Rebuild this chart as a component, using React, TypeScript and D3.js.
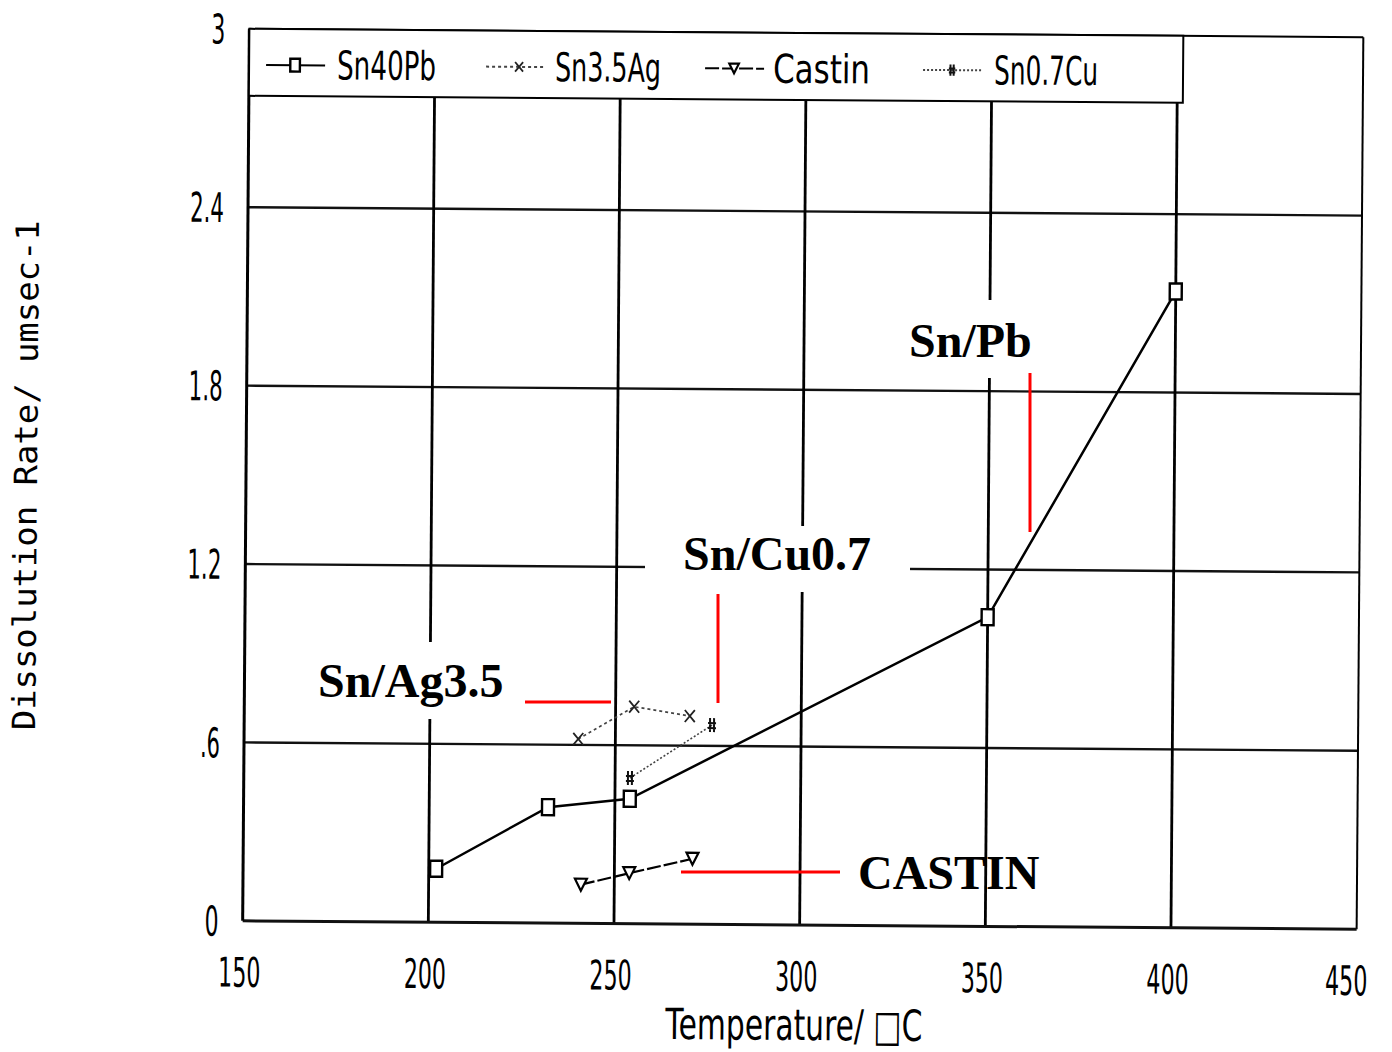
import React from "react";
import * as d3 from "d3";

// ---- data ----
const xTicks = [150, 200, 250, 300, 350, 400, 450];
const xTickLabels = ["150", "200", "250", "300", "350", "400", "450"];
const yTicks = [0, 0.6, 1.2, 1.8, 2.4, 3];
const yTickLabels = ["0", ".6", "1.2", "1.8", "2.4", "3"];

const sn40pbT = [202, 232, 254, 350, 400];
const sn40pbV = [0.18, 0.39, 0.42, 1.04, 2.14];
const sn35agT = [240, 255, 270];
const sn35agV = [0.62, 0.73, 0.70];
const castinT = [241, 254, 271];
const castinV = [0.13, 0.17, 0.22];
const sn07cuT = [254, 276];
const sn07cuV = [0.49, 0.67];

const seriesNames = ["Sn40Pb", "Sn3.5Ag", "Castin", "Sn0.7Cu"];
const annotationLabels = ["Sn/Pb", "Sn/Cu0.7", "Sn/Ag3.5", "CASTIN"];

// ---- layout ----
const W = 1392, H = 1052;
const X0 = 246, X1 = 1360, Y0 = 33, Y1 = 925;
const LEG_BOTTOM = 100, LEG_RIGHT = 1180;
const PLOT_FONT = "'DejaVu Sans', 'Liberation Sans', sans-serif";

const xScale = d3.scaleLinear().domain([150, 450]).range([X0, X1]);
const yScale = d3.scaleLinear().domain([0, 3]).range([Y1, Y0]);

type Style = { dash?: string; width: number; color: string; marker: string };
const styles: Style[] = [
  { width: 2.5, color: "#000", marker: "square" },
  { dash: "3,3", width: 1.6, color: "#444", marker: "x" },
  { dash: "14,3", width: 2.2, color: "#000", marker: "tri" },
  { dash: "2,2", width: 1.6, color: "#444", marker: "hash" },
];

function Marker({ kind, x, y, s = 1 }: { kind: string; x: number; y: number; s?: number }) {
  if (kind === "square")
    return <rect x={x - 6 * s} y={y - 8 * s} width={12 * s} height={16 * s} fill="#fff" stroke="#000" strokeWidth={2.4} />;
  if (kind === "x")
    return (
      <path d={`M${x - 5 * s},${y - 6 * s}L${x + 5 * s},${y + 6 * s}M${x + 5 * s},${y - 6 * s}L${x - 5 * s},${y + 6 * s}`} stroke="#222" strokeWidth={1.8} fill="none" />
    );
  if (kind === "tri")
    return <path d={`M${x - 6 * s},${y - 6 * s}L${x + 6 * s},${y - 6 * s}L${x},${y + 6 * s}Z`} fill="#fff" stroke="#000" strokeWidth={2.2} />;
  return (
    <path d={`M${x - 2 * s},${y - 7 * s}L${x - 2 * s},${y + 7 * s}M${x + 2 * s},${y - 7 * s}L${x + 2 * s},${y + 7 * s}M${x - 4 * s},${y - 2 * s}L${x + 4 * s},${y - 2 * s}M${x - 4 * s},${y + 3 * s}L${x + 4 * s},${y + 3 * s}`} stroke="#111" strokeWidth={2} fill="none" />
  );
}

function PText({ x, y, w, size, anchor = "start", children }: any) {
  return (
    <text x={x} y={y} fontSize={size} fontFamily={PLOT_FONT} textAnchor={anchor} textLength={w} lengthAdjust="spacingAndGlyphs" fill="#000">
      {children}
    </text>
  );
}

// condensed text via a horizontal scale, so the box equals the drawn width
function SText({ x, y, sx, size, anchor = "start", children }: any) {
  return (
    <text transform={`translate(${x},${y}) scale(${sx},1)`} fontSize={size} fontFamily={PLOT_FONT} textAnchor={anchor} fill="#000">
      {children}
    </text>
  );
}

const lineGen = d3.line<[number, number]>().x((d) => xScale(d[0])).y((d) => yScale(d[1]));

export default function App() {
  const series = [
    { t: sn40pbT, v: sn40pbV },
    { t: sn35agT, v: sn35agV },
    { t: castinT, v: castinV },
    { t: sn07cuT, v: sn07cuV },
  ];
  const legendPos = [
    { l0: 263, l1: 322, m: 292, tx: 334, tw: 99 },
    { l0: 483, l1: 540, m: 516, tx: 552, tw: 106 },
    { l0: 702, l1: 761, m: 731, tx: 770, tw: 97 },
    { l0: 920, l1: 979, m: 949, tx: 991, tw: 104 },
  ];
  const charW = (s: string) => s.split("").reduce((a, c) => a + (c === "." ? 6 : 14), 0);

  return (
    <svg width={W} height={H} style={{ position: "absolute", left: 0, top: 0, background: "#fff" }}>
      <rect width={W} height={H} fill="#fff" />
      <g transform="rotate(0.43 803 479)">
        {/* horizontal gridlines */}
        {yTicks.filter((t) => t > 0 && t < 3).map((t) => (
          <line key={"h" + t} x1={X0} x2={X1} y1={yScale(t)} y2={yScale(t)} stroke="#111" strokeWidth={2.4} />
        ))}
        {/* vertical gridlines */}
        {xTicks.filter((t) => t > 150 && t < 450).map((t) => (
          <line key={"v" + t} x1={xScale(t)} x2={xScale(t)} y1={Y1} y2={LEG_BOTTOM} stroke="#000" strokeWidth={2.8} />
        ))}
        {/* frame */}
        <line x1={X0} x2={X1} y1={Y0} y2={Y0} stroke="#000" strokeWidth={2} />
        <line x1={X1} x2={X1} y1={Y0} y2={Y1} stroke="#000" strokeWidth={2} />
        <line x1={X0} x2={X1} y1={Y1} y2={Y1} stroke="#111" strokeWidth={3} />
        <line x1={X0} x2={X0} y1={Y0} y2={Y1} stroke="#000" strokeWidth={3} />
        {/* legend box */}
        <rect x={X0} y={Y0} width={LEG_RIGHT - X0} height={LEG_BOTTOM - Y0} fill="#fff" stroke="#000" strokeWidth={2} />
        {seriesNames.map((n, i) => {
          const p = legendPos[i];
          const st = styles[i];
          return (
            <g key={n}>
              <line x1={p.l0} x2={p.l1} y1={69} y2={69} stroke={st.color} strokeWidth={2} strokeDasharray={st.dash} />
              <Marker kind={st.marker} x={p.m} y={69} s={0.8} />
              <PText x={p.tx} y={83} w={p.tw} size={40}>{n}</PText>
            </g>
          );
        })}
        {/* y tick labels */}
        {yTicks.map((t, i) => (
          <PText key={"yl" + t} x={222} y={yScale(t) + 15} w={charW(yTickLabels[i])} size={41} anchor="end">
            {yTickLabels[i]}
          </PText>
        ))}
        {/* x tick labels */}
        {xTicks.map((t, i) => (
          <SText key={"xl" + t} x={xScale(t) - (i === xTicks.length - 1 ? 10 : 3)} y={991} sx={0.54} size={41} anchor="middle">
            {xTickLabels[i]}
          </SText>
        ))}
        {/* axis titles */}
        <PText x={798} y={1040} w={257} size={43} anchor="middle">Temperature/ □C</PText>
        <text transform="translate(37,481) rotate(-90)" textAnchor="middle" fontFamily="'DejaVu Sans Mono', monospace" fontSize={32} textLength={510} lengthAdjust="spacingAndGlyphs" fill="#000">
          Dissolution Rate/ umsec-1
        </text>
        {/* series */}
        {series.map((s, i) => {
          const pts = s.t.map((t, j) => [t, s.v[j]] as [number, number]);
          const st = styles[i];
          return (
            <g key={"s" + i}>
              <path d={lineGen(pts) || ""} fill="none" stroke={st.color} strokeWidth={st.width} strokeDasharray={st.dash} />
              {pts.map((p, j) => (
                <Marker key={j} kind={st.marker} x={xScale(p[0])} y={yScale(p[1])} />
              ))}
            </g>
          );
        })}
      </g>
      {/* overlay annotations */}
      <rect x={900} y={300} width={140} height={78} fill="#fff" />
      <rect x={645} y={526} width={265} height={66} fill="#fff" />
      <rect x={305} y={642} width={210} height={77} fill="#fff" />
      <g fontFamily="'Liberation Serif', 'Times New Roman', serif" fontWeight="bold" fontSize={48} fill="#000">
        <text x={909} y={357}>{annotationLabels[0]}</text>
        <text x={683} y={570}>{annotationLabels[1]}</text>
        <text x={318} y={697}>{annotationLabels[2]}</text>
        <text x={858} y={889}>{annotationLabels[3]}</text>
      </g>
      <g stroke="#ff0000" strokeWidth={3}>
        <line x1={1030} x2={1030} y1={373} y2={532} />
        <line x1={718} x2={718} y1={594} y2={703} />
        <line x1={525} x2={611} y1={702} y2={702} />
        <line x1={681} x2={840} y1={872} y2={872} />
      </g>
    </svg>
  );
}
